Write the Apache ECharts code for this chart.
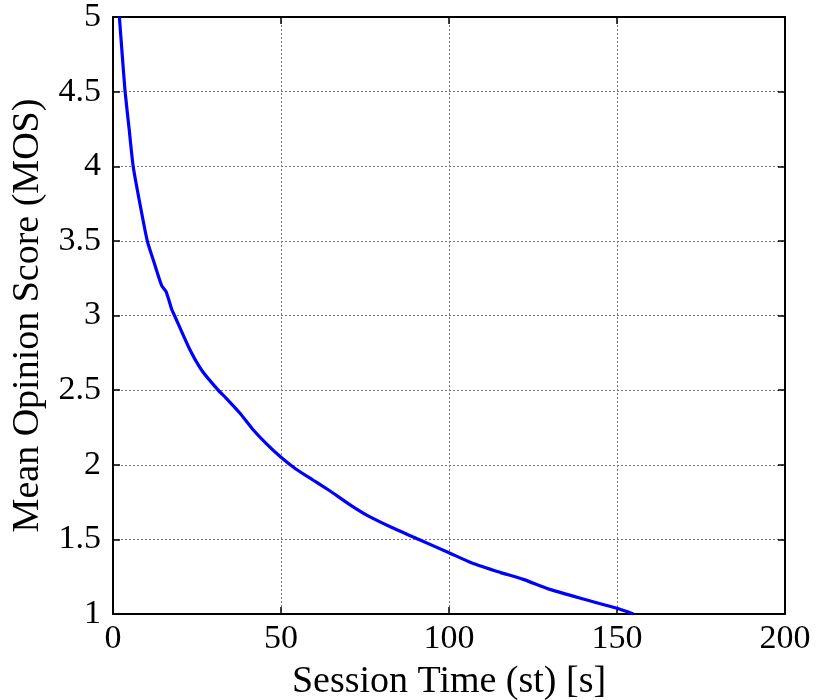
<!DOCTYPE html>
<html>
<head>
<meta charset="utf-8">
<script src="https://cdn.jsdelivr.net/npm/echarts@6/dist/echarts.min.js"></script>
<style>
  html, body { margin: 0; padding: 0; background: #fff; }
  #chart { width: 819px; height: 700px; }
</style>
</head>
<body>
<div id="chart"></div>
<script>
// Session time in seconds and the matching mean opinion score
var sessionTime = [1.9, 2.7, 3.6, 4.8, 6.0, 8.0, 10.2, 12.3, 14.5, 15.8, 17.5, 18.3, 22.9, 26.5, 31.3, 33.5, 37.8, 41.5, 45.7, 50.0, 54.5, 59.5, 64.6, 70.0, 75.5, 83.0, 91.4, 100.0, 107.0, 115.2, 122.1, 130.0, 140.0, 150.0, 154.9];
var mosValues   = [5.0, 4.76, 4.5, 4.25, 4.0, 3.75, 3.5, 3.35, 3.2, 3.16, 3.04, 3.0, 2.77, 2.63, 2.5, 2.45, 2.345, 2.24, 2.14, 2.05, 1.97, 1.898, 1.824, 1.74, 1.663, 1.58, 1.496, 1.41, 1.34, 1.279, 1.232, 1.165, 1.1, 1.038, 1.0];

// Axis ranges and tick spacing
var xRange = [0, 200], xStep = 50;
var yRange = [1, 5], yStep = 0.5;

var serif = "'Liberation Serif', 'Times New Roman', serif";
var curve = sessionTime.map(function (t, i) { return [t, mosValues[i]]; });

var gridLine = { show: true, lineStyle: { color: '#777', type: [2, 2], width: 1 } };
var frameLine = { show: true, onZero: false, lineStyle: { color: '#000', width: 2 } };
var innerTick = { show: true, inside: true, length: 7, lineStyle: { color: '#000', width: 1.5 } };

var chart = echarts.init(document.getElementById('chart'), null, { renderer: 'canvas' });
chart.setOption({
  animation: false,
  backgroundColor: '#fff',
  grid: { left: 113, top: 17, right: 34, bottom: 86, containLabel: false, outerBoundsMode: 'none' },
  xAxis: [{
    type: 'value', min: xRange[0], max: xRange[1], interval: xStep,
    name: 'Session Time (st) [s]', nameLocation: 'middle', nameGap: 49,
    nameTextStyle: { fontFamily: serif, fontSize: 38, color: '#000' },
    axisLine: frameLine, axisTick: innerTick, splitLine: gridLine,
    axisLabel: { fontFamily: serif, fontSize: 34, color: '#000', margin: 8 }
  }, {
    type: 'value', position: 'top', min: xRange[0], max: xRange[1], interval: xStep,
    axisLine: frameLine, axisTick: innerTick, splitLine: { show: false },
    axisLabel: { show: false }
  }],
  yAxis: [{
    type: 'value', min: yRange[0], max: yRange[1], interval: yStep,
    name: 'Mean Opinion Score (MOS)', nameLocation: 'middle', nameGap: 66,
    nameTextStyle: { fontFamily: serif, fontSize: 38, color: '#000' },
    axisLine: frameLine, axisTick: innerTick, splitLine: gridLine,
    axisLabel: { fontFamily: serif, fontSize: 34, color: '#000', margin: 12 }
  }, {
    type: 'value', position: 'right', min: yRange[0], max: yRange[1], interval: yStep,
    axisLine: frameLine, axisTick: innerTick, splitLine: { show: false },
    axisLabel: { show: false }
  }],
  series: [{
    type: 'line',
    xAxisIndex: 0, yAxisIndex: 0,
    data: curve,
    showSymbol: false,
    smooth: 0.2,
    lineStyle: { color: '#0000ff', width: 3.2 },
    clip: true
  }]
});
</script>
</body>
</html>
